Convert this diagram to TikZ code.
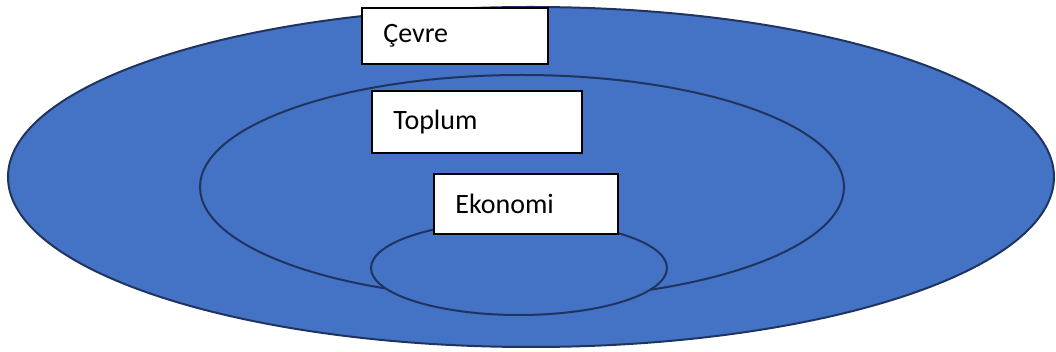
\documentclass[tikz,border=0pt]{standalone}
\usepackage{fontspec}
\setmainfont{Carlito}
\definecolor{ringfill}{HTML}{4472C4}
\definecolor{ringedge}{HTML}{1F3560}

\tikzset{
  ring/.style={draw=ringedge, fill=ringfill, line width=1.5pt},
  namebox/.style={draw=black, fill=white, line width=1.5pt, inner xsep=16pt,
    align=left, font=\fontsize{21}{25}\selectfont}
}

\begin{document}
\begin{tikzpicture}[x=0.75pt,y=-0.75pt]

\useasboundingbox (0,0) rectangle (1056,352);

% rings, outer to inner
\draw[ring] (531,177) ellipse (523 and 170);
\draw[ring] (522,187) ellipse (322 and 112);
\draw[ring] (519,268) ellipse (148 and 47);

% labels
\node[namebox, minimum width=186*0.75pt, minimum height=56*0.75pt,
      text width=186*0.75pt-32pt] (cevre) at (455,36) {Çevre};
\node[namebox, minimum width=210*0.75pt, minimum height=62*0.75pt,
      text width=210*0.75pt-32pt] (toplum) at (477,122) {Toplum};
\node[namebox, minimum width=184*0.75pt, minimum height=60*0.75pt,
      text width=184*0.75pt-32pt] (ekonomi) at (526,204) {Ekonomi};

\end{tikzpicture}
\end{document}
